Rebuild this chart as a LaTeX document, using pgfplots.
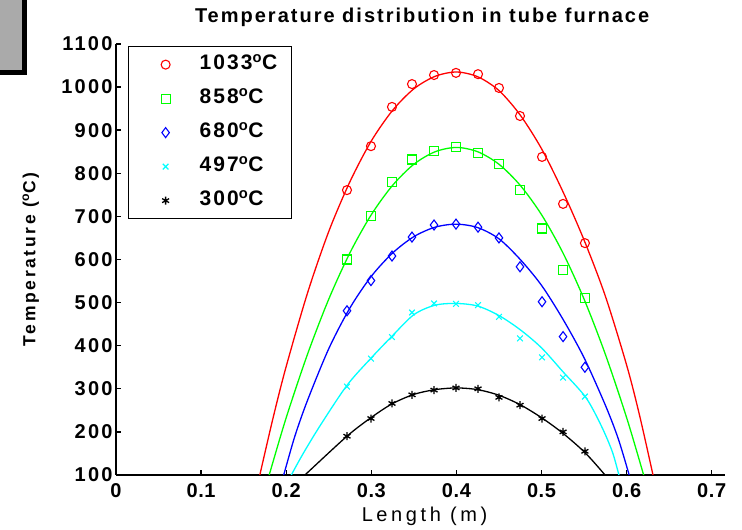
\documentclass[border=0pt]{standalone}
\usepackage{fontspec}
\setmainfont{Liberation Sans}
\usepackage{pgfplots}
\pgfplotsset{compat=1.18}
\newfontfamily\fytick{Liberation Sans}[LetterSpace=11]
\newfontfamily\fxtick{Liberation Sans}[LetterSpace=3]
\newfontfamily\ftitle{Liberation Sans}[LetterSpace=10]
\newfontfamily\fwide{Liberation Sans}[LetterSpace=15]
\newfontfamily\fxlab{Liberation Sans}[LetterSpace=18]
\newfontfamily\fleg{Liberation Sans}[LetterSpace=10]
\newcommand\ytickfont{\fytick\bfseries\fontsize{20}{23}\selectfont}
\newcommand\xtickfont{\fxtick\bfseries\fontsize{20}{23}\selectfont}
\newcommand\titlefont{\ftitle\bfseries\fontsize{20}{23}\selectfont}
\newcommand\ylabfont{\fwide\bfseries\fontsize{17.5}{20}\selectfont}
\newcommand\xlabfont{\fxlab\fontsize{20}{23}\selectfont}
\newcommand\legfont{\fleg\bfseries\fontsize{21}{24}\selectfont}
\definecolor{boxgray}{RGB}{170,170,170}
\definecolor{cR}{RGB}{255,0,0}
\definecolor{cG}{RGB}{0,255,0}
\definecolor{cB}{RGB}{0,0,255}
\definecolor{cC}{RGB}{0,255,255}
\definecolor{cK}{RGB}{0,0,0}
\begin{document}
\begin{tikzpicture}
\useasboundingbox (0pt,0pt) rectangle (742pt,530pt);
\fill[black] (0pt,455pt) rectangle (27pt,530pt);
\fill[boxgray] (0pt,460pt) rectangle (22pt,530pt);
\begin{axis}[
  at={(116pt,55pt)}, anchor=south west,
  scale only axis, width=608.5pt, height=431pt,
  xmin=0, xmax=0.715, ymin=100, ymax=1100,
  axis lines=left,
  axis line style={-, line width=1.6pt},
  xtick={0,0.1,...,0.7},
  ytick={100,200,...,1100},
  tick align=inside,
  major tick length=5pt,
  major tick style={line width=1.4pt, black},
  scaled ticks=false,
  /pgf/number format/assume math mode=true,
  /pgf/number format/1000 sep={},
  xticklabel style={font=\xtickfont, yshift=-5pt},
  yticklabel style={font=\ytickfont},
  title={Temperature distribution in tube furnace},
  title style={at={(axis description cs:0.503,1.047)}, anchor=center, font=\titlefont},
  xlabel={Length (m)},
  xlabel style={at={(axis description cs:0.507,-0.097)}, anchor=center, font=\xlabfont},
  ylabel={Temperature (\textsuperscript{o}C)},
  ylabel style={at={(axis description cs:-0.14,0.5)}, anchor=center, font=\ylabfont},
  legend cell align=left,
  legend image code/.code={\path[draw=none,fill=none] (0pt,-4pt) rectangle (35pt,4pt); \draw[#1,only marks] plot coordinates {(25pt,0pt)};},
  legend style={at={(axis description cs:0.0197,0.9954)}, anchor=north west,
    draw=black, line width=1.3pt, fill=white, font=\legfont,
    inner xsep=12pt, inner ysep=7pt, row sep=12pt,
    nodes={inner sep=2pt, text height=14pt, text depth=4pt},
    /tikz/every odd column/.append style={column sep=22pt}},
]
% fitted curves
\addplot[cR, line width=1.3pt, smooth, forget plot] coordinates {
(0.164,55)(0.169,100)(0.185,236)(0.2,352)(0.225,522)(0.25,665)(0.275,781)(0.30,875)(0.325,946)(0.35,996)(0.375,1025)(0.40,1035)(0.425,1024)(0.45,992)(0.475,935)(0.50,857)(0.525,758)(0.55,645)(0.575,515)(0.60,355)(0.615,240)(0.631,100)(0.636,55)};
\addplot[cG, line width=1.3pt, smooth, forget plot] coordinates {
(0.175,65)(0.18,100)(0.2,233)(0.225,380)(0.25,508)(0.275,616)(0.30,704)(0.325,772)(0.35,821)(0.375,850)(0.40,860)(0.425,850)(0.45,821)(0.475,772)(0.50,704)(0.525,616)(0.55,508)(0.575,380)(0.60,233)(0.62,100)(0.625,65)};
\addplot[cB, line width=1.3pt, smooth, forget plot] coordinates {
(0.19,58)(0.197,100)(0.21,189)(0.225,273)(0.25,393)(0.275,488)(0.30,561)(0.325,615)(0.35,653)(0.375,675)(0.40,682)(0.425,674)(0.45,648)(0.475,600)(0.50,540)(0.525,462)(0.55,372)(0.575,262)(0.59,185)(0.603,100)(0.609,58)};
\addplot[cC, line width=1.3pt, smooth, forget plot] coordinates {
(0.194,55)(0.206,100)(0.22,150)(0.24,215)(0.2714,308)(0.2996,371)(0.3243,422)(0.35,472)(0.375,494)(0.40,498)(0.425,492)(0.45,470)(0.475,437)(0.50,395)(0.525,340)(0.552,280)(0.57,215)(0.583,155)(0.591,100)(0.598,52)};
\addplot[cK, line width=1.3pt, smooth, forget plot] coordinates {
(0.195,50)(0.222,100)(0.2714,190)(0.2996,233)(0.3243,265)(0.35,287)(0.375,298)(0.40,302)(0.425,298)(0.45,285)(0.475,263)(0.50,233)(0.525,197)(0.551,152)(0.5746,100)(0.595,50)};
% measured points
\addplot[cR, only marks, mark=o, mark size=4.5pt, line width=1.1pt] coordinates {
(0.2714,761)(0.2996,863)(0.3243,954)(0.3478,1007)(0.3737,1028)(0.3995,1033)(0.4254,1030)(0.450,998)(0.4747,933)(0.5006,838)(0.5253,729)(0.551,638)};
\addlegendentry{1033\textsuperscript{o}C}
\addplot[cG, only marks, mark=square, mark size=4.5pt, line width=1.1pt] coordinates {
(0.2714,600)(0.2996,700)(0.3243,780)(0.3478,832)(0.3737,852)(0.3995,860)(0.4254,848)(0.450,822)(0.4747,762)(0.5006,672)(0.5253,575)(0.551,511)};
\addlegendentry{858\textsuperscript{o}C}
\addplot[cB, only marks, mark=diamond, mark size=5pt, line width=1.1pt] coordinates {
(0.2714,481)(0.2996,551)(0.3243,608)(0.3478,652)(0.3737,680)(0.3995,682)(0.4254,675)(0.450,650)(0.4747,583)(0.5006,502)(0.5253,421)(0.551,350)};
\addlegendentry{680\textsuperscript{o}C}
\addplot[cC, only marks, mark=x, mark size=4pt, line width=1.1pt] coordinates {
(0.2714,305)(0.2996,370)(0.3243,420)(0.3478,477)(0.3737,498)(0.3995,497)(0.4254,494)(0.450,467)(0.4747,417)(0.5006,373)(0.5253,326)(0.551,282)};
\addlegendentry{497\textsuperscript{o}C}
\addplot[cK, only marks, mark=asterisk, mark size=4pt, line width=1.3pt] coordinates {
(0.2714,190)(0.2996,231)(0.3243,266)(0.3478,286)(0.3737,297)(0.3995,302)(0.4254,300)(0.450,280)(0.4747,262)(0.5006,231)(0.5253,200)(0.551,155)};
\addlegendentry{300\textsuperscript{o}C}
\end{axis}
\end{tikzpicture}
\end{document}
